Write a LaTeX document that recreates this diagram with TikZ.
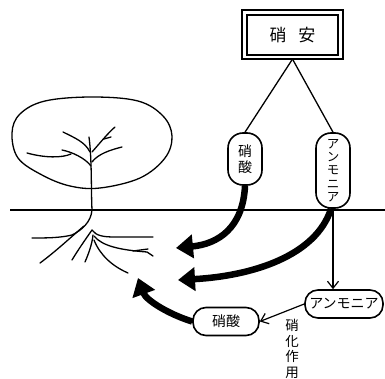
\documentclass[tikz,border=0pt]{standalone}
\usepackage{fontspec}
\newfontfamily\jp{Noto Sans CJK JP}
\usetikzlibrary{arrows.meta}
\begin{document}
\begin{tikzpicture}[x=1pt,y=-1pt,
  font=\jp,
  thin/.style={line width=1.3pt},
  twig/.style={line width=1.3pt, line cap=round, line join=round},
  pill/.style={draw, line width=1.6pt, inner sep=0pt, align=center},
  vpill/.style={pill, minimum width=34pt, rounded corners=15pt, font=\jp\fontsize{14}{15.5}\selectfont},
  hpill/.style={pill, minimum height=28pt, rounded corners=13pt, font=\jp\fontsize{14}{15}\selectfont},
  flow/.style={line width=6.5pt, -{Triangle[length=17pt,width=23pt]}},
  thinarrow/.style={line width=1.2pt, -{Straight Barb[length=7pt,width=11pt]}}]
\useasboundingbox (0,0) rectangle (385,379);

% fertiliser box with double frame
\node[draw, line width=1.2pt, minimum width=91pt, minimum height=40pt,
      font=\jp\fontsize{17}{19}\selectfont] (box) at (292.5,35) {硝\hspace{12pt}安};
\draw[line width=1.8pt] ([xshift=-4.5pt,yshift=4pt]box.north west) rectangle ([xshift=4pt,yshift=-3.5pt]box.south east);

% components above ground
\node[vpill, minimum height=52pt] (n1) at (245,159) {硝\\酸};
\node[vpill, minimum height=75pt, font=\jp\fontsize{12.5}{13.4}\selectfont] (n2) at (333,170.5) {ア\\ン\\モ\\ニ\\ア};
\draw[thin] ([yshift=-3.5pt]box.south) -- (n1.north);
\draw[thin] ([yshift=-3.5pt]box.south) -- (n2.north);

% ground
\coordinate (g0) at (10,210);
\coordinate (g1) at (385,210);
\draw[thin] (g0) -- (g1);

% components in the soil
\node[hpill, minimum width=78pt] (n3) at (344,304) {アンモニア};
\node[hpill, minimum width=66pt] (n4) at (226,321.5) {硝酸};
\node[font=\jp\fontsize{13.5}{15.5}\selectfont, align=center, inner sep=0pt, anchor=north] (lab) at (292,319) {硝\\化\\作\\用};

\draw[thinarrow] (n2.south) -- (n2.south |- n3.north);
\draw[thinarrow] (n3.west) -- (n4.east);

% uptake by the roots
\coordinate (r1) at (176,248);
\coordinate (r2) at (178,280);
\coordinate (r3) at (138,278);
\draw[flow] (n1.south) .. controls (243,228) and (218,244) .. (r1);
\draw[flow] ([xshift=-2pt]n2.south) .. controls (316,256) and (252,276) .. (r2);
\draw[flow] (n4.west) .. controls (168,314) and (146,300) .. (r3);

% tree crown
\draw[twig] plot[smooth cycle, tension=0.6] coordinates {
  (12,133) (20,114) (45,101) (92,97) (138,101) (163,116) (172,136)
  (165,158) (140,178) (100,188) (70,186) (42,175) (18,158)};
% trunk and branches
\draw[twig] (89,137) .. controls (92,160) and (91,190) .. (92,210);
\draw[twig] (63,132) .. controls (75,138) and (85,142) .. (90,152);
\draw[twig] (27,153) .. controls (45,158) and (62,158) .. (71,154);
\draw[twig] (62,150) .. controls (72,152) and (85,158) .. (91,166);
\draw[twig] (115,127) .. controls (108,133) and (100,143) .. (92,152);
\draw[twig] (111,137) -- (104,139);
\draw[twig] (122,147) .. controls (110,150) and (98,154) .. (92,162);
% roots
\draw[twig] (92,210) .. controls (91,222) and (82,230) .. (72,235)
            .. controls (60,238) and (45,238) .. (32,238);
\draw[twig] (84,226) .. controls (70,238) and (55,252) .. (40,263);
\draw[twig] (92,230) .. controls (85,240) and (78,250) .. (72,260);
\draw[twig] (93,235) .. controls (92,245) and (88,255) .. (85,262);
\draw[twig] (92,230) .. controls (96,236) and (104,237) .. (115,237) -- (153,237);
\draw[twig] (94,236) .. controls (102,246) and (120,250) .. (147,252) -- (153,256);
\draw[twig] (133,251) -- (148,249);
\draw[twig] (94,240) .. controls (100,255) and (112,266) .. (128,273);
\end{tikzpicture}
\end{document}
